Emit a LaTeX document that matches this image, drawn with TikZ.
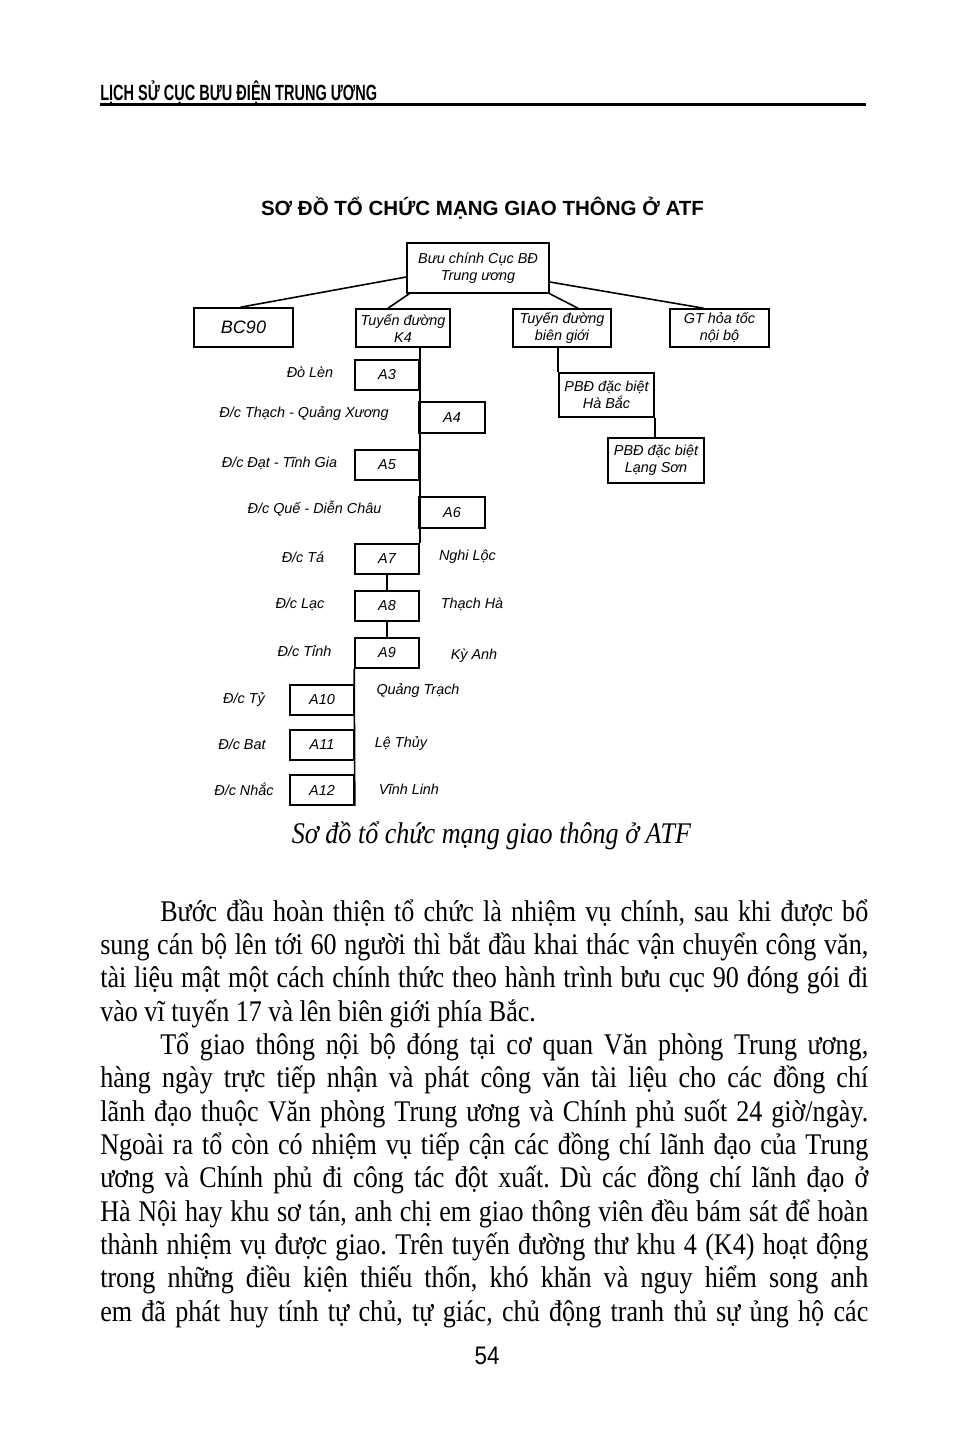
\documentclass[tikz,border=0pt]{standalone}
\usepackage{fontspec}
\setmainfont{Liberation Serif}
\newfontfamily\dsans{Liberation Sans}
\newfontfamily\bodyfont{Liberation Serif}[FakeStretch=0.87]
\newfontfamily\hdrfont{Liberation Sans}[FakeStretch=0.66]
\newfontfamily\numfont{Liberation Sans}[FakeStretch=0.88]
\newdimen\px \px=0.75pt
\frenchspacing
\tikzset{
  box/.style={draw, line width=1.2pt, inner sep=0pt, align=center,
    font=\dsans\itshape\fontsize{10.8pt}{12.75pt}\selectfont},
  lbl/.style={inner sep=0pt, font=\dsans\itshape\fontsize{10.8pt}{12.75pt}\selectfont},
  conn/.style={line width=1.2pt},
  abox/.style={box, minimum width=64\px, minimum height=30\px},
  bbox/.style={box, minimum width=66\px, minimum height=31\px},
  bodyline/.style={anchor=base west, inner sep=0pt,
    font=\bodyfont\fontsize{22.5pt}{25pt}\selectfont},
}
\begin{document}
\begin{tikzpicture}[x=0.75pt,y=-0.75pt]
\useasboundingbox[fill=white] (0,0) rectangle (969,1441);

% header
\node[anchor=base west, inner sep=0pt] (hdr) at (100,101)
  {\hdrfont\bfseries\fontsize{16.5pt}{18pt}\selectfont LỊCH SỬ CỤC BƯU ĐIỆN TRUNG ƯƠNG};
\draw[line width=2.2pt] (100,104.5) -- (866,104.5);

% title
\node[inner sep=0pt, font=\dsans\bfseries\fontsize{15.4pt}{18pt}\selectfont] (title) at (482.5,208)
  {SƠ ĐỒ TỔ CHỨC MẠNG GIAO THÔNG Ở ATF};

% top level
\node[box, minimum width=142\px, minimum height=50\px] (top) at (478,268) {Bưu chính Cục BĐ\\Trung ương};
\node[box, minimum width=99\px, minimum height=39\px, font=\dsans\itshape\fontsize{13.5pt}{15pt}\selectfont] (bc) at (243.5,327.5) {BC90};
\node[box, minimum width=94\px, minimum height=38\px] (k4) at (403,328) {Tuyến đường\\K4};
\node[box, minimum width=98\px, minimum height=38\px] (bg) at (562,328) {Tuyến đường\\biên giới};
\node[box, minimum width=99\px, minimum height=38\px] (gt) at (719.5,328) {GT hỏa tốc\\nội bộ};

\draw[conn] ([yshift=-9\px]top.west) -- ([xshift=-3\px]bc.north);
\draw[conn] ([xshift=3\px]top.south west) -- ([xshift=-15\px]k4.north);
\draw[conn] (top.south east) -- ([xshift=16\px]bg.north);
\draw[conn] ([yshift=-14\px]top.east) -- ([xshift=-16\px]gt.north);

% K4 branch
\node[abox] (a3) at (387,375) {A3};
\node[bbox] (a4) at (452,417.5) {A4};
\node[abox] (a5) at (387,465) {A5};
\node[bbox] (a6) at (452,512.5) {A6};
\node[abox] (a7) at (387,559) {A7};
\node[abox] (a8) at (387,606) {A8};
\node[abox] (a9) at (387,653) {A9};
\node[abox] (a10) at (322,700) {A10};
\node[abox] (a11) at (322,745) {A11};
\node[abox] (a12) at (322,790) {A12};

\draw[conn] (a3.east |- k4.south) -- (a7.north east);
\draw[conn] (a7.south) -- (a8.north);
\draw[conn] (a8.south) -- (a9.north);
\draw[conn] (a9.south west) -- (a12.south east);

% border branch
\node[box, minimum width=95\px, minimum height=44\px] (hb) at (606.5,395) {PBĐ đặc biệt\\Hà Bắc};
\node[box, minimum width=96\px, minimum height=45\px] (ls) at (656,460.5) {PBĐ đặc biệt\\Lạng Sơn};
\draw[conn] (hb.north west |- bg.south) -- (hb.north west);
\draw[conn] (hb.south east) -- (hb.south east |- ls.north);

% labels
\node[lbl] (l3) at (310,372) {Đò Lèn};
\node[lbl] (l4) at (304,414) {Đ/c Thạch - Quảng Xương};
\node[lbl] (l5) at (279.5,463) {Đ/c Đạt - Tĩnh Gia};
\node[lbl] (l6) at (314.5,509) {Đ/c Quế - Diễn Châu};
\node[lbl] (l7) at (303,557) {Đ/c Tá};
\node[lbl] (r7) at (467.5,557) {Nghi Lộc};
\node[lbl] (l8) at (300,604) {Đ/c Lạc};
\node[lbl] (r8) at (472,604) {Thạch Hà};
\node[lbl] (l9) at (304.5,651) {Đ/c Tỉnh};
\node[lbl] (r9) at (474,656) {Kỳ Anh};
\node[lbl] (l10) at (244,700) {Đ/c Tỷ};
\node[lbl] (r10) at (418,691) {Quảng Trạch};
\node[lbl] (l11) at (242,744) {Đ/c Bat};
\node[lbl] (r11) at (401,744) {Lệ Thủy};
\node[lbl] (l12) at (244,789) {Đ/c Nhắc};
\node[lbl] (r12) at (409,789) {Vĩnh Linh};

% caption
\node[anchor=base, inner sep=0pt, font=\bodyfont\itshape\fontsize{22.5pt}{25pt}\selectfont] (cap) at (491.5,843)
  {Sơ đồ tổ chức mạng giao thông ở ATF};

% body
\node[bodyline] (b1) at (160,921) {\makebox[708\px][s]{Bước đầu hoàn thiện tổ chức là nhiệm vụ chính, sau khi được bổ}};
\node[bodyline] (b2) at (100,954.3) {\makebox[768\px][s]{sung cán bộ lên tới 60 người thì bắt đầu khai thác vận chuyển công văn,}};
\node[bodyline] (b3) at (100,987.7) {\makebox[768\px][s]{tài liệu mật một cách chính thức theo hành trình bưu cục 90 đóng gói đi}};
\node[bodyline] (b4) at (100,1021) {vào vĩ tuyến 17 và lên biên giới phía Bắc.};
\node[bodyline] (b5) at (160,1054.3) {\makebox[708\px][s]{Tổ giao thông nội bộ đóng tại cơ quan Văn phòng Trung ương,}};
\node[bodyline] (b6) at (100,1087.7) {\makebox[768\px][s]{hàng ngày trực tiếp nhận và phát công văn tài liệu cho các đồng chí}};
\node[bodyline] (b7) at (100,1121) {\makebox[768\px][s]{lãnh đạo thuộc Văn phòng Trung ương và Chính phủ suốt 24 giờ/ngày.}};
\node[bodyline] (b8) at (100,1154.3) {\makebox[768\px][s]{Ngoài ra tổ còn có nhiệm vụ tiếp cận các đồng chí lãnh đạo của Trung}};
\node[bodyline] (b9) at (100,1187.7) {\makebox[768\px][s]{ương và Chính phủ đi công tác đột xuất. Dù các đồng chí lãnh đạo ở}};
\node[bodyline] (b10) at (100,1221) {\makebox[768\px][s]{Hà Nội hay khu sơ tán, anh chị em giao thông viên đều bám sát để hoàn}};
\node[bodyline] (b11) at (100,1254.3) {\makebox[768\px][s]{thành nhiệm vụ được giao. Trên tuyến đường thư khu 4 (K4) hoạt động}};
\node[bodyline] (b12) at (100,1287.7) {\makebox[768\px][s]{trong những điều kiện thiếu thốn, khó khăn và nguy hiểm song anh}};
\node[bodyline] (b13) at (100,1321) {\makebox[768\px][s]{em đã phát huy tính tự chủ, tự giác, chủ động tranh thủ sự ủng hộ các}};

% page number
\node[anchor=base, inner sep=0pt, font=\numfont\fontsize{19pt}{22pt}\selectfont] (pg) at (487,1364) {54};
\end{tikzpicture}
\end{document}
